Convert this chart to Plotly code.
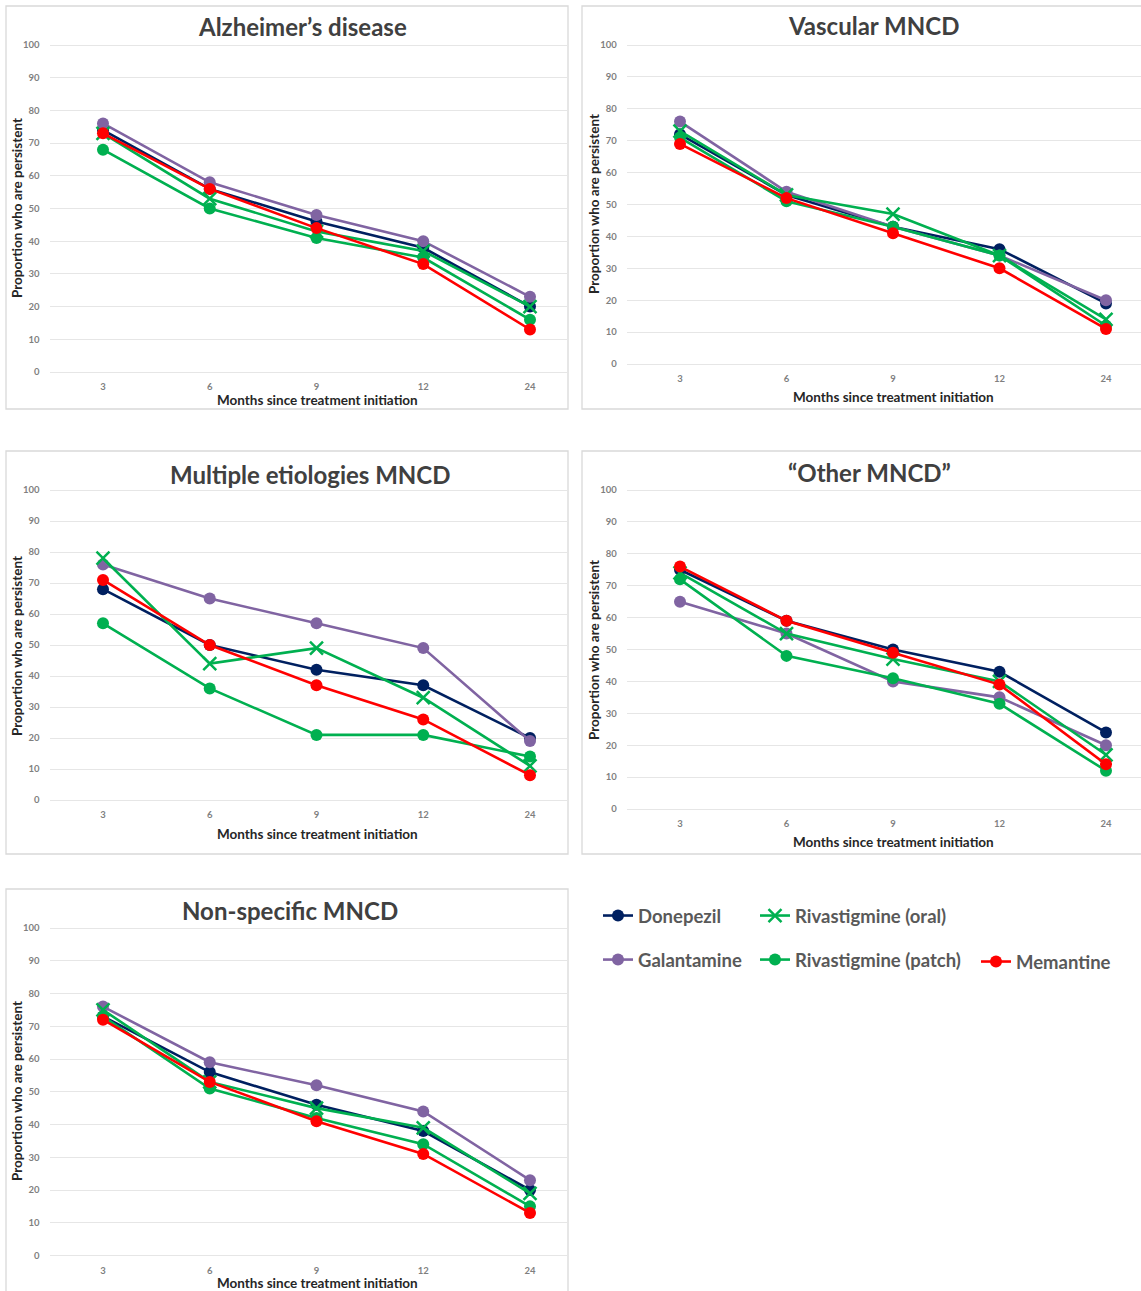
import plotly.graph_objects as go

W, H = 1141, 1291

months = ["3", "6", "9", "12", "24"]
drugs = ["Donepezil", "Galantamine", "Rivastigmine (oral)", "Rivastigmine (patch)", "Memantine"]
colors = ["#002060", "#8064A2", "#00B050", "#00B050", "#FF0000"]
symbols = ["circle", "circle", "x-thin", "circle", "circle"]

# rows follow the order of `drugs`
alzheimers = [
    [74, 56, 46, 38, 20],
    [76, 58, 48, 40, 23],
    [73, 53, 43, 37, 20],
    [68, 50, 41, 35, 16],
    [73, 56, 44, 33, 13],
]
vascular = [
    [72, 53, 43, 36, 19],
    [76, 54, 43, 34, 20],
    [73, 53, 47, 34, 14],
    [71, 51, 43, 34, 12],
    [69, 52, 41, 30, 11],
]
multiple = [
    [68, 50, 42, 37, 20],
    [76, 65, 57, 49, 19],
    [78, 44, 49, 33, 11],
    [57, 36, 21, 21, 14],
    [71, 50, 37, 26, 8],
]
other = [
    [75, 59, 50, 43, 24],
    [65, 55, 40, 35, 20],
    [74, 55, 47, 40, 17],
    [72, 48, 41, 33, 12],
    [76, 59, 49, 39, 14],
]
nonspecific = [
    [73, 56, 46, 38, 20],
    [76, 59, 52, 44, 23],
    [75, 53, 45, 39, 19],
    [73, 51, 42, 34, 15],
    [72, 53, 41, 31, 13],
]

titles = ["Alzheimer\u2019s disease", "Vascular MNCD", "Multiple etiologies MNCD",
          "\u201cOther MNCD\u201d", "Non-specific MNCD"]
x_title = "Months since treatment initiation"
y_title = "Proportion who are persistent"

# layout geometry in pixels
panels = [
    dict(data=alzheimers, x3=103, x24=530, xr=568, y100=45, y0=372, box=(6, 6, 568, 409),
         t=(302, 27), xt=(317, 400), yt=(17, 208)),
    dict(data=vascular, x3=680, x24=1106, xr=1141, y100=45, y0=364, box=(582, 6, 1150, 409),
         t=(873, 26), xt=(893, 397), yt=(594, 204)),
    dict(data=multiple, x3=103, x24=530, xr=568, y100=490, y0=800, box=(6, 451, 568, 854),
         t=(310, 474), xt=(317, 834), yt=(17, 646)),
    dict(data=other, x3=680, x24=1106, xr=1141, y100=490, y0=809, box=(582, 451, 1150, 854),
         t=(869, 472), xt=(893, 842), yt=(594, 650)),
    dict(data=nonspecific, x3=103, x24=530, xr=568, y100=928, y0=1255.5, box=(6, 889, 568, 1300),
         t=(290, 910), xt=(317, 1283), yt=(17, 1091)),
]

FONT = "Lato"
legend_of = ["legend", "legend", "legend2", "legend2", "legend3"]

fig = go.Figure()
layout = dict(width=W, height=H, autosize=False, margin=dict(l=0, r=0, t=0, b=0),
              paper_bgcolor="white", plot_bgcolor="white",
              font=dict(family=FONT), shapes=[], annotations=[])

def px(x):
    return x / W

def py(y):
    return 1 - y / H

tick_font = dict(family=FONT, size=9.5, color="#7f7f7f", weight="bold")

for i, p in enumerate(panels):
    n = i + 1
    ax = "" if n == 1 else str(n)
    x0, y0b, x1, y1b = p["box"]
    layout["shapes"].append(dict(type="rect", xref="paper", yref="paper",
                                 x0=px(x0), x1=px(x1), y0=py(y1b), y1=py(y0b),
                                 line=dict(color="#d9d9d9", width=1.3), layer="below"))
    step = (p["x24"] - p["x3"]) / 4
    xr_idx = (p["xr"] - p["x3"]) / step
    left = p["x3"] - 0.5 * step
    unit = (p["y0"] - p["y100"]) / 100
    bot = p["y0"] + 2 * unit
    top = p["y100"] - 2 * unit
    layout["xaxis" + ax] = dict(domain=[px(left), min(1, px(p["xr"]))], type="category",
                                range=[-0.5, xr_idx], showgrid=False, zeroline=False,
                                showline=False, ticks="", anchor="y" + ax,
                                tickfont=tick_font, ticklabelstandoff=1, fixedrange=True)
    layout["yaxis" + ax] = dict(domain=[py(bot), py(top)], range=[-2, 102],
                                tickvals=list(range(0, 101, 10)),
                                showgrid=True, gridcolor="#e6e6e6", gridwidth=1.2, zeroline=False,
                                showline=False, ticks="", anchor="x" + ax,
                                tickfont=tick_font, ticklabelstandoff=9, fixedrange=True)
    layout["annotations"].append(dict(text=titles[i], xref="paper", yref="paper",
                                      x=px(p["t"][0]), y=py(p["t"][1]), showarrow=False,
                                      xanchor="center", yanchor="middle",
                                      font=dict(family=FONT, size=24, color="#404040", weight="bold")))
    layout["annotations"].append(dict(text=x_title, xref="paper", yref="paper",
                                      x=px(p["xt"][0]), y=py(p["xt"][1]), showarrow=False,
                                      xanchor="center", yanchor="middle",
                                      font=dict(family=FONT, size=13.5, color="#262626", weight="bold")))
    layout["annotations"].append(dict(text=y_title, xref="paper", yref="paper", textangle=-90,
                                      x=px(p["yt"][0]), y=py(p["yt"][1]), showarrow=False,
                                      xanchor="center", yanchor="middle",
                                      font=dict(family=FONT, size=13.5, color="#262626", weight="bold")))
    for d, name in enumerate(drugs):
        is_x = symbols[d] == "x-thin"
        fig.add_trace(go.Scatter(
            x=months, y=p["data"][d], name=name, mode="lines+markers",
            xaxis="x" + ax, yaxis="y" + ax,
            line=dict(color=colors[d], width=2.6),
            marker=dict(symbol=symbols[d], size=13 if is_x else 12, color=colors[d],
                        line=dict(color=colors[d], width=2.5 if is_x else 0)),
            showlegend=(i == 0), legend=legend_of[d], legendgroup=name,
            cliponaxis=False,
        ))

leg_font = dict(family=FONT, size=18.5, color="#595959", weight="bold")
layout["legend"] = dict(x=px(598), y=py(897), xanchor="left", yanchor="top", font=leg_font,
                        bgcolor="rgba(0,0,0,0)", tracegroupgap=17, itemwidth=30)
layout["legend2"] = dict(x=px(755), y=py(897), xanchor="left", yanchor="top", font=leg_font,
                         bgcolor="rgba(0,0,0,0)", tracegroupgap=17, itemwidth=30)
layout["legend3"] = dict(x=px(976), y=py(943), xanchor="left", yanchor="top", font=leg_font,
                         bgcolor="rgba(0,0,0,0)", itemwidth=30)

fig.update_layout(**layout)
fig.write_html("out.html", post_script="document.body.style.margin='0';",
               config={"displayModeBar": False})
